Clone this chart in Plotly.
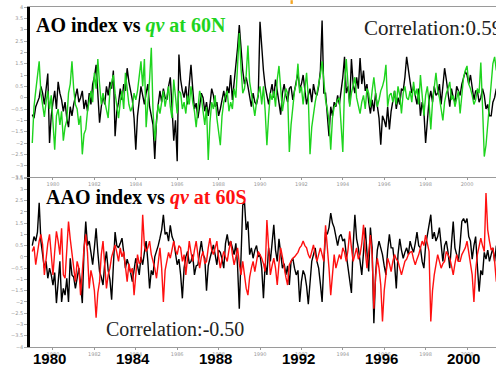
import plotly.graph_objects as go

# Monthly series, Jan 1979 onwards
ao_index = [
    -0.75, -0.9, -0.4, -0.2, 0.0, 0.5, 0.2, -0.3, 0.4, 1.06, -2.0, -0.8,
    -0.2, 0.3, -0.5, 0.7, 0.2, -0.1, -0.6, -0.2, -0.9, -1.3, -0.4, -0.8,
    -0.3, 0.1, 0.4, -0.2, 0.0, 0.3, -0.5, -0.1, -0.6, 0.2, -0.3, 0.6,
    0.9, 1.45, 0.2, -1.1, -0.4, 0.1, -0.3, 0.5, 0.1, 0.7, 0.4, 1.2,
    -1.7, -0.6, -0.2, 0.4, -0.1, 0.6, 0.3, 1.3, 0.7, 0.2, -0.1, -0.9,
    -2.3, -0.8, 0.0, 0.5, 0.1, -0.3, 0.2, 0.6, -0.4, -0.9, -1.2, -2.7,
    -1.0, -0.3, 0.3, -0.2, 0.4, 0.0, -0.1, 0.5, 0.9, -0.4, -1.9, -1.0,
    -2.8, 1.9, 0.8, 0.3, 0.0, 0.5, -0.3, 0.6, 1.45, 0.4, -0.5, -0.24,
    -0.9, -0.4, 0.2, 0.0, -0.6, -0.2, -0.8, -0.3, 0.4, 0.1, -0.4, -0.2,
    -0.8, -0.5, -0.1, 0.3, -0.2, 0.5, 0.2, 1.0, -0.1, 0.6, 1.3, 2.2,
    3.2, 2.0, 1.2, 0.6, 0.9, 0.5, 0.1, -0.4, 0.2, -0.2, -0.3, 0.1,
    3.35, 2.1, 1.2, 0.5, 0.1, -0.3, 0.2, 0.6, 0.0, 0.8, 0.3, -0.2,
    -0.75, 0.2, 0.6, 0.1, -0.2, 0.4, 0.5, -0.1, 0.3, 0.7, 1.1, 0.4,
    0.6, 1.0, 0.3, -0.3, 0.1, 0.4, -0.2, 0.6, 0.2, 0.1, 0.5, 1.2,
    3.4, 0.2, 0.2, -0.6, -1.7, -0.4, -0.8, -0.2, -0.4, 0.1, -0.3, 0.3,
    0.9, 1.8, 0.2, 0.5, -0.3, 1.7, 0.6, 0.2, 0.9, 0.4, 1.75, 0.6,
    1.2, 0.3, 0.6, -0.2, -0.7, -0.1, -0.6, 0.2, -0.5, -0.9, -2.07, -0.8,
    -1.0, -1.3, -0.4, -1.4, -0.6, -0.2, 0.3, -0.5, 0.0, -0.3, 0.4, 0.3,
    0.9, 1.8, 1.1, 0.7, 0.2, 0.5, 0.1, -0.3, 0.4, -0.8, -0.2, -0.6,
    -2.0, -1.0, -0.1, 0.3, -0.2, 0.5, 0.1, 0.2, 0.6, -0.3, 0.4, 1.3,
    0.8, 0.2, -0.4, 0.4, 0.0, -0.2, 0.5, 0.3, 0.1, 0.6, 0.9, 1.15,
    1.0, 0.6, 1.0, 0.4, -0.1, 0.3, 0.3, -0.2, 0.0, 0.4, 0.1, -0.5,
    -0.3, -0.8, -0.8, -0.2, 0.0, 0.4,
]

qv_60n = [
    -2.0, -0.4, 0.3, 0.9, 1.6, 0.2, -0.3, -0.85, -0.2, 0.3, -0.5, 0.1,
    -1.1, -2.3, -0.8, -0.5, -1.2, -0.6, -1.9, -1.3, -1.0, 0.2, 0.6, 1.6,
    0.4, -0.3, -0.5, -1.2, -0.8, -2.5, -1.6, -1.4, -0.6, -0.1, 0.3, -0.2,
    1.1, 0.4, 1.7, 0.6, -0.3, 0.2, -0.2, -0.5, -0.9, 0.3, 0.6, 1.0,
    0.2, -0.4, -0.9, -0.2, 0.3, -0.5, 1.1, 0.4, -0.3, -0.6, -0.4, 0.2,
    -0.1, 0.3, 0.9, 1.6, 0.5, 1.7, -1.3, -0.4, 0.8, 2.2, -0.6, -1.9,
    -1.1, -0.3, -0.7, -0.2, 0.3, -0.4, 0.0, 0.5, -0.4, -0.9, 0.8, 0.1,
    -0.7, 0.3, 0.2, -0.5, -0.2, -0.7, 0.1, -0.3, 0.5, -0.2, -0.6, -1.3,
    -0.4, 0.3, 0.0, -0.6, -1.2, -0.4, -2.75, -1.1, -0.2, -0.5, 0.1, -0.9,
    -1.4, -2.1, -0.8, -0.2, 0.1, 0.3, -0.6, -0.2, -0.5, 0.4, 0.0, 1.4,
    2.85, 1.3, 0.2, 0.4, 1.0, 2.3, 0.7, 0.2, -0.3, -0.8, -0.2, 0.2,
    0.5, -0.3, 0.5, -0.6, -2.1, -0.8, 0.2, -0.1, 0.3, -0.4, 0.8, 1.4,
    0.3, -0.6, -0.1, 0.4, 0.2, -2.4, -1.2, -0.5, 0.3, 0.6, 1.5, 0.2,
    0.5, -0.3, 0.4, 1.1, 0.0, -2.5, -1.3, -0.7, -0.2, 0.2, 0.6, 1.0,
    1.6, 0.6, -0.1, -0.5, -1.0, -2.3, -0.9, -0.4, -0.3, -0.1, 0.0, -1.2,
    -2.4, 0.5, 1.7, 0.6, -0.4, 0.2, 0.5, 0.9, 0.0, -0.3, -0.7, -0.2,
    0.1, -0.5, 0.4, 0.2, -0.4, 0.3, 0.9, 0.2, -0.4, -0.1, 0.3, 0.5,
    0.8, 1.45, -0.4, 0.1, 0.2, -0.2, 0.3, -0.3, 0.5, 0.1, -0.7, 0.2,
    0.5, 0.0, -0.1, 0.3, -0.2, 0.7, 0.1, 0.4, -0.3, 1.0, 0.2, -0.8,
    0.1, 0.5, -0.2, -1.4, -0.2, 0.5, 1.1, 0.3, 0.0, -0.5, -1.0, -0.2,
    0.2, 0.4, 0.7, -0.1, 0.1, -0.4, -0.1, 0.3, -0.7, 0.2, 0.9, 1.2,
    1.4, 0.6, 0.4, 0.1, -0.3, -0.1, 0.4, 0.2, 1.55, -0.4, -2.6, -2.1,
    -1.2, -0.3, 0.6, 1.5, 1.8, 1.2,
]

aao_index = [
    0.5, 0.9, 0.7, 1.1, 2.4, 0.7, 0.1, -0.5, -0.2, -0.95, -0.5, -0.8,
    -1.25, -0.7, -2.05, -0.95, -0.2, -2.0, -1.4, -1.7, -0.95, -2.0, -0.06, -0.8,
    -0.9, -1.4, -0.9, -0.5, -1.2, -2.05, 0.3, 1.57, 0.5, 0.7, 0.2, -0.35,
    0.4, 1.27, 0.2, -0.65, -0.9, -1.25, -0.3, 0.24, -0.6, -1.0, -1.9, -0.06,
    1.1, 0.5, 0.4, 0.6, 0.83, 0.2, -0.5, -0.1, -0.35, -0.7, -1.1, -0.5,
    -0.06, -0.4, -0.8, 0.0, -0.35, 0.2, 0.7, -0.2, -1.4, -0.6, -0.8, 0.0,
    0.24, 0.5, 0.83, 1.2, 1.87, 1.0, 1.1, 0.7, 1.4, 0.9, 0.7, 0.2,
    -0.35, -0.1, -0.8, -1.84, -0.5, 0.0, 0.24, -0.3, -0.2, 0.1, -0.8, -0.4,
    -0.35, 0.2, 0.7, 0.1, -0.06, -1.5, -0.4, -0.06, 0.3, 0.53, 0.1, -0.35,
    0.3, 0.2, -0.1, -0.5, 0.6, 1.0, 0.5, 0.7, 0.4, 0.1, 0.6, -0.4,
    -2.3, 0.1, 2.3, 2.46, 1.2, 1.57, 0.1, 0.4, -0.06, 0.3, 0.5, 0.0,
    0.1, -0.5, -1.84, -0.3, -0.8, 0.4, -0.2, 0.6, 1.42, 0.3, -0.2, 0.8,
    0.2, -0.5, -0.3, -0.8, -0.4, -1.25, -0.2, -0.06, -0.5, -0.8, -0.6, -2.0,
    -1.1, -0.6, -0.8, -1.3, -2.1, -0.9, -0.2, 0.1, 0.4, -0.2, -0.5, -1.2,
    -2.0, -0.3, 1.1, 1.0, 1.3, 1.94, 1.5, 1.3, 0.9, 0.5, 0.9, 1.0,
    0.7, 0.8, 0.1, -0.5, -0.9, -1.6, 0.5, 1.87, 0.8, 0.4, -0.2, -0.8,
    0.2, 1.3, 0.2, -0.65, 1.3, 0.4, -2.95, -0.8, 0.3, 0.7, 0.4, 0.1,
    -0.4, -0.8, 0.3, 1.0, 0.4, 0.4, -0.3, -1.4, 0.1, 0.8, 0.3, -0.06,
    0.2, 0.4, 0.1, 0.7, 0.4, 0.2, 0.6, 1.1, 0.5, 0.4, -0.2, -0.5,
    0.5, 0.9, 1.4, 1.87, 0.8, 1.1, 0.7, 0.9, 1.3, 0.4, -0.2, 0.5,
    0.7, 0.2, -0.5, 0.6, 1.57, 0.4, 0.1, -0.2, 0.6, 1.57, 1.7, 1.5,
    1.7, 0.9, 0.7, -0.1, 0.5, 0.9, -0.4, -1.54, -0.6, -0.8, 0.2, -0.1,
    0.3, -0.2, 0.1, 0.4, -0.2, 0.5,
]

qv_60s = [
    0.24, 0.46, -0.35, 0.2, 0.7, 1.0, 0.53, -0.8, 0.0, 0.6, 1.0, 0.1,
    -0.8, 0.24, 1.13, 0.7, 0.1, 1.27, -0.8, -0.95, 0.3, 1.57, 0.8, 0.24,
    -0.4, -1.1, -0.2, -0.5, -1.7, -0.6, 0.4, 1.0, 0.2, -1.4, -0.6, -0.95,
    -1.5, -2.7, -1.6, -1.1, 0.1, 0.7, -0.3, -1.4, -0.8, -0.5, 0.0, 0.3,
    0.53, 0.2, -0.2, 0.4, 0.0, 0.24, -0.4, -1.1, -0.3, -0.7, -0.5, -1.7,
    -0.8, 0.1, -0.3, -0.2, 1.87, 0.5, 0.24, 0.4, 0.7, 0.1, -0.2, -0.5,
    -0.95, -0.3, 0.4, -0.5, -2.0, -0.6, -0.2, 0.2, -0.06, 0.3, 0.7, 0.3,
    0.1, 0.5, 0.4, -0.2, 0.1, -0.8, 0.0, 0.7, 0.2, -0.2, 0.3, 0.7,
    0.1, -0.5, 0.0, 0.24, -0.3, -0.2, 0.4, 0.83, 0.3, 0.1, 0.4, 0.7,
    0.0, -0.5, -0.1, 0.24, 0.0, -0.2, 0.3, 0.7, 0.1, -0.35, 0.0, 0.4,
    -0.3, -0.8, -0.2, -0.9, -1.4, -1.7, -0.9, -0.5, -0.2, -0.65, -0.1, 0.24,
    0.1, -0.06, -0.3, -0.65, 1.64, 0.2, -0.8, -0.4, -0.06, -0.5, -1.25, -0.3,
    0.4, 0.0, -0.5, -0.9, -1.25, -0.35, -0.2, -0.06, 0.0, 0.1, 0.2, 0.4,
    0.5, 0.7, 0.5, 0.4, 0.1, -0.06, 0.2, 0.53, 0.1, -0.2, 0.1, 0.4,
    0.1, -0.2, 1.4, 0.6, -0.5, -1.7, -0.6, 0.1, -0.5, -0.2, 0.1, -0.1,
    0.4, 0.2, -0.2, 0.3, 1.13, 0.4, -0.2, 0.1, 0.4, -0.1, 0.1, 0.6,
    1.42, 0.3, -0.5, 0.2, 0.97, 0.1, -2.3, -0.9, -0.06, -0.5, -1.25, -2.87,
    -1.5, -0.8, -0.06, -0.3, -0.65, -0.2, 0.1, -0.1, -0.2, -0.5, -0.8, -0.5,
    -0.2, -0.1, 0.1, 0.2, 0.24, -0.1, -0.35, -0.1, 0.1, 0.4, 0.7, 0.5,
    0.97, 0.6, 0.24, -2.87, -1.5, -0.8, -0.4, 0.1, -0.2, -0.5, -0.3, -0.2,
    0.24, 0.1, -0.06, -0.4, -0.8, -0.3, 0.1, -0.2, -0.2, 0.1, 0.24, 0.4,
    0.7, 0.2, -0.5, -0.8, -2.0, -0.6, 0.1, 0.4, 0.83, 0.5, 0.24, 2.83,
    1.2, 0.7, 0.3, 0.4, -0.2, -1.1,
]

start_year = 1979
small_ticks = [1980, 1982, 1984, 1986, 1988, 1990, 1992, 1994, 1996, 1998, 2000]
big_ticks = [1980, 1984, 1988, 1992, 1996, 2000]
y_ticks_top = [4, 3.5, 3, 2.5, 2, 1.5, 1, 0.5, 0, -0.5, -1, -1.5, -2, -2.5, -3, -3.5]
y_ticks_bot = [3.5, 3, 2.5, 2, 1.5, 1, 0.5, 0, -0.5, -1, -1.5, -2, -2.5, -3, -3.5, -4]

def months(series):
    return [start_year + i / 12 for i in range(len(series))]

GREEN = "#1ed41e"
RED = "#ff1010"

fig = go.Figure()
fig.add_trace(go.Scatter(x=months(ao_index), y=ao_index, mode="lines",
                         line=dict(color="black", width=1.4), xaxis="x", yaxis="y"))
fig.add_trace(go.Scatter(x=months(qv_60n), y=qv_60n, mode="lines",
                         line=dict(color=GREEN, width=1.4), xaxis="x", yaxis="y"))
fig.add_trace(go.Scatter(x=months(aao_index), y=aao_index, mode="lines",
                         line=dict(color="black", width=1.4), xaxis="x2", yaxis="y2"))
fig.add_trace(go.Scatter(x=months(qv_60s), y=qv_60s, mode="lines",
                         line=dict(color=RED, width=1.4), xaxis="x2", yaxis="y2"))

xr = [1978.89, 2001.40]
tick_font = dict(family="DejaVu Sans", size=5, color="#999999")
xcommon = dict(range=xr, tickvals=small_ticks, ticktext=[str(t) for t in small_ticks],
               showline=True, linecolor="#9a9a9a", linewidth=1, mirror=True,
               ticks="outside", ticklen=2, tickcolor="#9a9a9a", tickfont=tick_font,
               showgrid=False, zeroline=False, automargin=False)
ycommon = dict(showline=True, linecolor="black", linewidth=2.5, ticks="outside",
               ticklen=3, tickcolor="#aaaaaa", tickfont=tick_font, showgrid=False,
               zeroline=False, automargin=False)

fig.update_layout(
    width=496, height=365,
    margin=dict(l=30, r=0, t=7, b=18, autoexpand=False),
    paper_bgcolor="white", plot_bgcolor="white",
    showlegend=False,
    xaxis=dict(domain=[0, 1], anchor="y", **xcommon),
    yaxis=dict(domain=[0.5, 1.0], anchor="x", range=[-3.5, 4],
               tickvals=y_ticks_top, **ycommon),
    xaxis2=dict(domain=[0, 1], anchor="y2", **xcommon),
    yaxis2=dict(domain=[0.0, 0.497], anchor="x2", range=[-4, 3.5],
                tickvals=y_ticks_bot, **ycommon),
)

serif = "Liberation Serif"
annotations = [
    dict(text="<b>AO index vs <span style='color:%s'><i>qv</i> at 60N</span></b>" % GREEN,
         xref="paper", yref="paper", x=0.008, y=0.947, xanchor="left", yanchor="middle",
         showarrow=False, font=dict(family=serif, size=20, color="black")),
    dict(text="Correlation:0.59", xref="paper", yref="paper", x=0.712, y=0.939,
         xanchor="left", yanchor="middle", showarrow=False,
         font=dict(family=serif, size=21, color="#222222")),
    dict(text="<b>AAO index vs <span style='color:%s'><i>qv</i> at 60S</span></b>" % RED,
         xref="paper", yref="paper", x=0.03, y=0.441, xanchor="left", yanchor="middle",
         showarrow=False, font=dict(family=serif, size=20, color="black")),
    dict(text="Correlation:-0.50", xref="paper", yref="paper", x=0.158, y=0.052,
         xanchor="left", yanchor="middle", showarrow=False,
         font=dict(family=serif, size=20, color="#222222")),
]
for yr in big_ticks:
    annotations.append(dict(text="<b>%d</b>" % yr, xref="x2", yref="paper", x=yr - 0.15, y=-0.034,
                            xanchor="center", yanchor="middle", showarrow=False,
                            font=dict(family="Liberation Sans", size=15, color="black")))
fig.update_layout(annotations=annotations)

fig.add_shape(type="rect", xref="paper", yref="paper", x0=0.559, x1=0.564,
              y0=1.009, y1=1.02, fillcolor="#f5a623", line=dict(width=0))

fig.write_html("out.html", config={"displayModeBar": False},
               post_script="document.body.style.margin='0';document.body.style.overflow='hidden';")
